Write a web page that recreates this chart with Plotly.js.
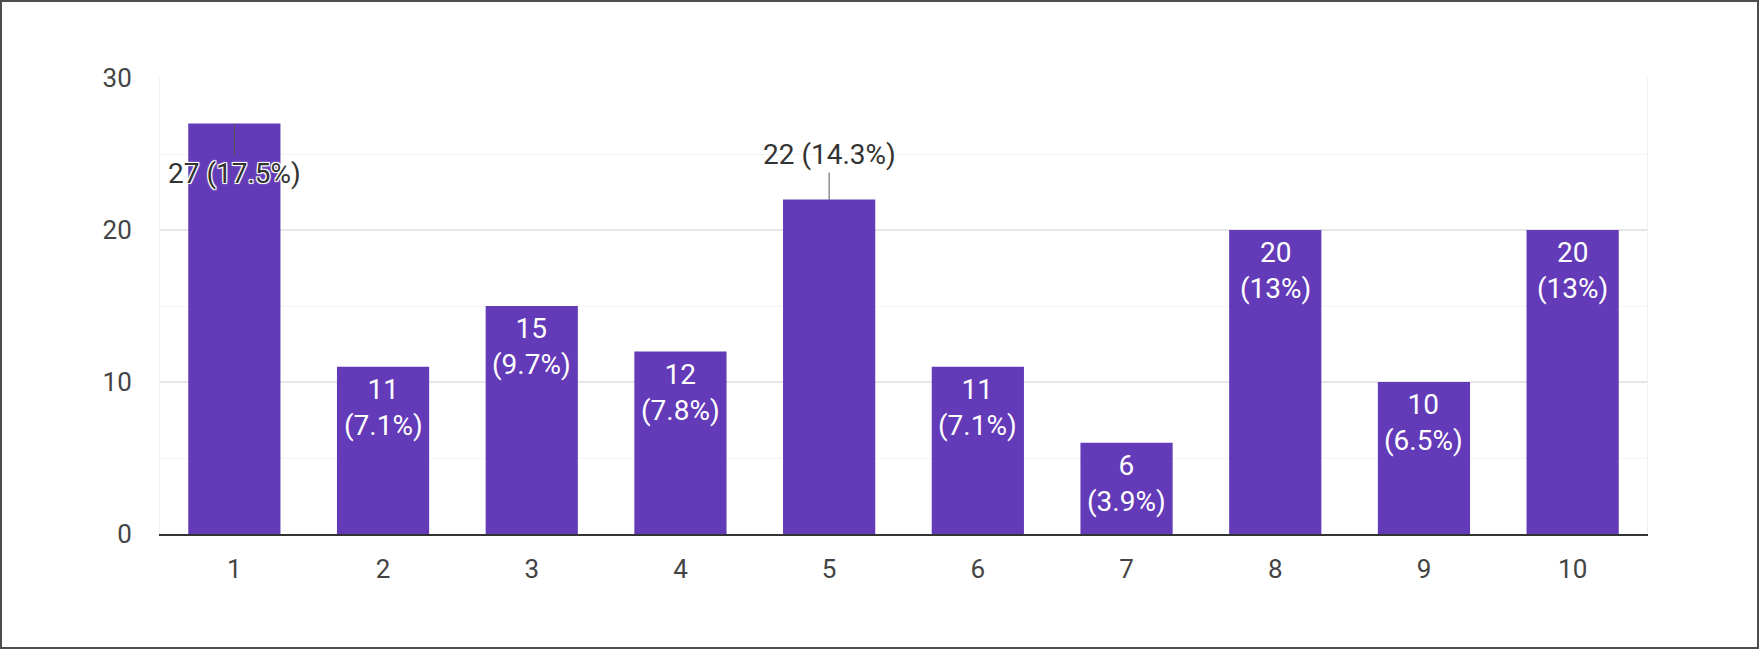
<!DOCTYPE html>
<html>
<head>
<meta charset="utf-8">
<script src="https://cdn.plot.ly/plotly-3.0.1.min.js"></script>
<style>
  html, body { margin: 0; padding: 0; background: #fff; }
  #wrap { position: relative; width: 1760px; height: 650px; }
  #chart { width: 1760px; height: 650px; }
  #frame { position: absolute; left: 0; top: 0; width: 1759px; height: 649px;
           box-sizing: border-box; border: 2px solid #4d4d4d; pointer-events: none; }
</style>
</head>
<body>
<div id="wrap">
  <div id="chart"></div>
  <div id="frame"></div>
</div>
<script>
// ---- data ----
const categories = ['1', '2', '3', '4', '5', '6', '7', '8', '9', '10'];
const counts     = [27, 11, 15, 12, 22, 11, 6, 20, 10, 20];
const percents   = ['17.5%', '7.1%', '9.7%', '7.8%', '14.3%', '7.1%', '3.9%', '13%', '6.5%', '13%'];
// bars whose label sits on a leader line (index -> pixel offset of the label)
const outsideLabels = { 0: 50, 4: -45 };
const yTicks = [0, 10, 20, 30];

const purple = '#633ab7';
const font = 'Roboto, "Liberation Sans", Arial, sans-serif';

const trace = {
  type: 'bar',
  x: categories,
  y: counts,
  marker: { color: purple, line: { width: 0 } },
  hoverinfo: 'none'
};

const halo = '1px 1px 0 #fff, -1px -1px 0 #fff, 1px -1px 0 #fff, -1px 1px 0 #fff, 0 0 3px #fff';
// on a category axis an annotation's x is the category's index
const annotations = categories.map((c, i) => {
  if (i in outsideLabels) {
    return {
      x: i, y: counts[i], xref: 'x', yref: 'y',
      text: counts[i] + ' (' + percents[i] + ')',
      showarrow: true, arrowhead: 0, arrowwidth: 1, arrowcolor: '#555',
      ax: 0, ay: outsideLabels[i],
      font: { family: font, size: 28, color: '#333', shadow: halo }
    };
  }
  return {
    x: i, y: counts[i], xref: 'x', yref: 'y',
    text: counts[i] + '<br>(' + percents[i] + ')',
    showarrow: false, yanchor: 'top', yshift: -4,
    font: { family: font, size: 28, color: '#ffffff' }
  };
});

const layout = {
  width: 1760, height: 650,
  margin: { l: 160, r: 113, t: 78, b: 116 },
  paper_bgcolor: '#ffffff', plot_bgcolor: '#ffffff',
  showlegend: false,
  bargap: 0.38,
  font: { family: font, size: 26, color: '#444' },
  xaxis: {
    type: 'category',
    range: [-0.5, categories.length - 0.5],
    showgrid: false, zeroline: false,
    showline: true, linecolor: '#333', linewidth: 2,
    ticks: 'outside', ticklen: 11, tickcolor: 'rgba(0,0,0,0)',
    tickfont: { family: font, size: 26, color: '#444' },
    fixedrange: true
  },
  yaxis: {
    range: [0, 30],
    tickvals: yTicks,
    ticktext: yTicks.map(String),
    showgrid: true, gridcolor: '#e6e6e6', gridwidth: 1.5,
    minor: { dtick: 5, showgrid: true, gridcolor: '#f4f4f4', gridwidth: 1 },
    zeroline: false,
    showline: true, linecolor: '#f0f0f0', linewidth: 1, mirror: true,
    ticks: 'outside', ticklen: 22, tickcolor: 'rgba(0,0,0,0)',
    tickfont: { family: font, size: 26, color: '#444' },
    fixedrange: true
  },
  annotations: annotations
};

Plotly.newPlot('chart', [trace], layout, { displayModeBar: false, staticPlot: true });
</script>
</body>
</html>
